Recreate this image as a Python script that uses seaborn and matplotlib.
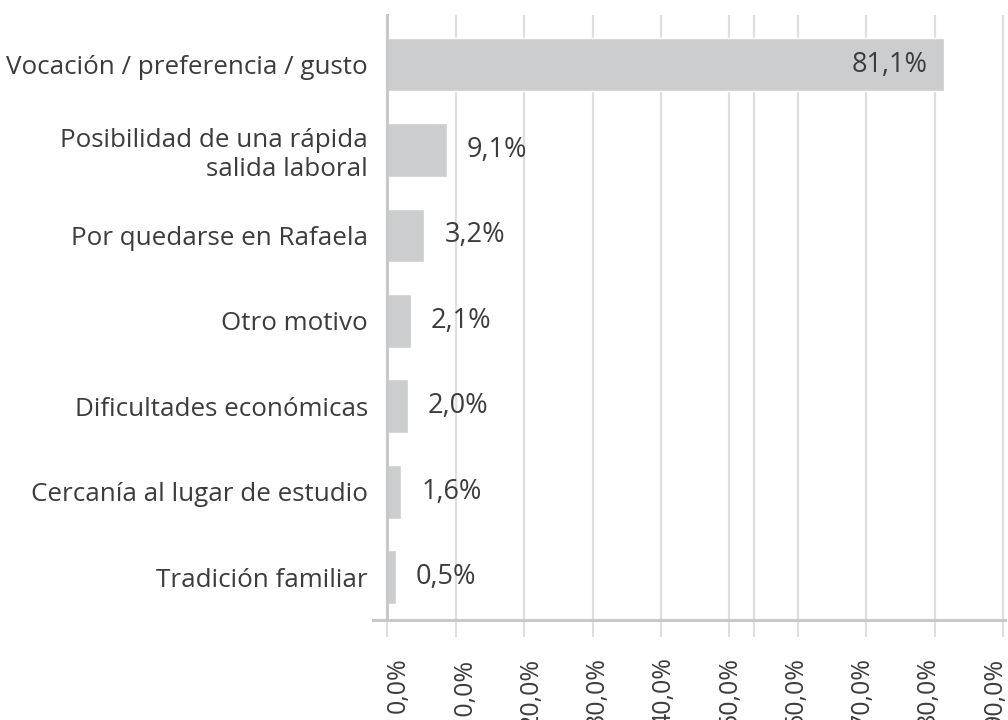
import matplotlib
matplotlib.use("Agg")
import matplotlib.pyplot as plt
import matplotlib.transforms as mtransforms
import seaborn as sns

# Datos
motivos = [
    "Vocación / preferencia / gusto",
    "Posibilidad de una rápida\nsalida laboral",
    "Por quedarse en Rafaela",
    "Otro motivo",
    "Dificultades económicas",
    "Cercanía al lugar de estudio",
    "Tradición familiar",
]
# largo de las barras tal como se dibujan en el original
largos = [81.4, 8.7, 5.4, 3.4, 3.0, 2.0, 1.2]
# valores rotulados
rotulos = ["81,1%", "9,1%", "3,2%", "2,1%", "2,0%", "1,6%", "0,5%"]
ticks_x = [0, 10, 20, 30, 40, 50, 60, 70, 80, 90]
ticks_txt = ["0,0%", "10,0%", "20,0%", "30,0%", "40,0%", "50,0%",
             "60,0%", "70,0%", "80,0%", "90,0%"]

sns.set_style("white")
plt.rcParams["font.family"] = ["Open Sans", "DejaVu Sans"]
TXT = "#3c3c3c"
BARRA = "#cccdcf"
GRILLA = "#dedede"
EJE = "#c8c8c8"

fig = plt.figure(figsize=(10.08, 7.2), dpi=100)
ax = fig.add_axes([0.370, 0.1389, 0.627, 0.840])

sns.barplot(x=largos, y=motivos, color=BARRA, width=0.63, saturation=1,
            orient="h", ax=ax, zorder=2)

ax.set_xlim(-2.1, 90.3)
ax.set_ylim(6.5, -0.577)

# grilla y ejes
ax.set_xticks(ticks_x)
ax.set_xticklabels(ticks_txt, rotation=90, fontsize=18, color=TXT)
ax.set_xticks([53.6], minor=True)
ax.grid(axis="x", which="both", color=GRILLA, linewidth=1.6, zorder=0)
ax.grid(axis="y", visible=False)
ax.set_axisbelow(True)
ax.tick_params(axis="x", which="both", length=12, width=1.4, color=GRILLA,
               pad=15, direction="out", bottom=True)
ax.tick_params(axis="y", length=0, pad=14, labelsize=18.7, labelcolor=TXT)
for lab in ax.get_yticklabels():
    lab.set_linespacing(1.1)
    if "\n" in lab.get_text():
        lab.set_transform(lab.get_transform()
                          + mtransforms.ScaledTranslation(0, 0.06, fig.dpi_scale_trans))

for s in ["top", "right"]:
    ax.spines[s].set_visible(False)
ax.spines["left"].set_position(("data", 0))
ax.spines["left"].set_color(EJE)
ax.spines["left"].set_linewidth(2.2)
ax.spines["left"].set_zorder(3)
ax.spines["bottom"].set_color(EJE)
ax.spines["bottom"].set_linewidth(2.2)
ax.set_xlabel("")
ax.set_ylabel("")

# leve corrimiento de las etiquetas rotadas como en el original
for i, lab in enumerate(ax.get_xticklabels()):
    dx = (11 - 2.1 * i) / 100
    lab.set_transform(lab.get_transform()
                      + mtransforms.ScaledTranslation(dx, 0, fig.dpi_scale_trans))

# rótulos de valores
for i, (v, t) in enumerate(zip(largos, rotulos)):
    if v > 50:
        ax.annotate(t, (v, i), xytext=(-12, 0), textcoords="offset points",
                    ha="right", va="center", fontsize=19.5, color=TXT)
    else:
        ax.annotate(t, (v, i), xytext=(14.5, 0), textcoords="offset points",
                    ha="left", va="center", fontsize=19.5, color=TXT)

fig.savefig("out.png", dpi=100)
